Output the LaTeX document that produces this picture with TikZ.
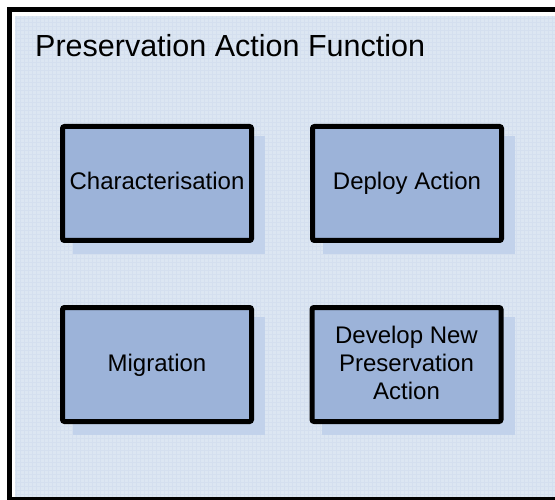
\documentclass[tikz,border=0pt]{standalone}
\usepackage{fontspec}
\setmainfont{Liberation Sans}
\definecolor{panelfill}{HTML}{DCE6F2}
\definecolor{gridc}{HTML}{D4DFEF}
\definecolor{boxfill}{HTML}{9CB3D9}
\definecolor{shadowc}{HTML}{C2D2EB}
\newcommand\lnstrut{\rule[-5pt]{0pt}{23pt}}
\begin{document}
\begin{tikzpicture}[x=1pt,y=-1pt,
  funcbox/.style={draw=black, line width=5pt, fill=boxfill, rounded corners=2pt,
    minimum width=189pt, minimum height=114pt, inner sep=0pt, align=center,
    font=\fontsize{24}{28}\selectfont}]
\useasboundingbox (0,0) rectangle (555,500);
% panel
\fill[white] (0,0) rectangle (555,500);
\fill[panelfill] (15,16) rectangle (555,500);
\begin{scope}
\clip (15,16) rectangle (555,500);
\foreach \g in {16,20,...,560} {
  \draw[gridc, line width=0.35pt] (\g,16) -- (\g,500);
}
\foreach \g in {18,22,...,500} {
  \draw[gridc, line width=0.35pt] (15,\g) -- (555,\g);
}
\end{scope}
\draw[line width=5pt, black] (570,9.5) -- (9.5,9.5) -- (9.5,510);
\draw[line width=5pt, black] (9.5,499.5) -- (570,499.5);
% title
\node[anchor=base west, inner sep=0pt, font=\fontsize{30.5}{34}\selectfont] (title) at (35,57) {Preservation Action Function};
% box positions
\coordinate (pc) at (157,183.5);
\coordinate (pd) at (407,183.5);
\coordinate (pm) at (157,364.5);
\coordinate (pn) at (406.5,364.5);
% shadows
\foreach \p in {pc,pd,pm,pn} {
  \fill[shadowc] ([shift={(-84.5,-47.5)}]\p) rectangle ([shift={(108,70.5)}]\p);
}
\node[funcbox] (char) at (pc) {\lnstrut Characterisation};
\node[funcbox] (deploy) at (pd) {\lnstrut Deploy Action};
\node[funcbox] (migr) at (pm) {\lnstrut Migration};
\node[funcbox] (devel) at (pn) {\lnstrut Develop New\\\lnstrut Preservation\\\lnstrut Action};
\end{tikzpicture}
\end{document}
